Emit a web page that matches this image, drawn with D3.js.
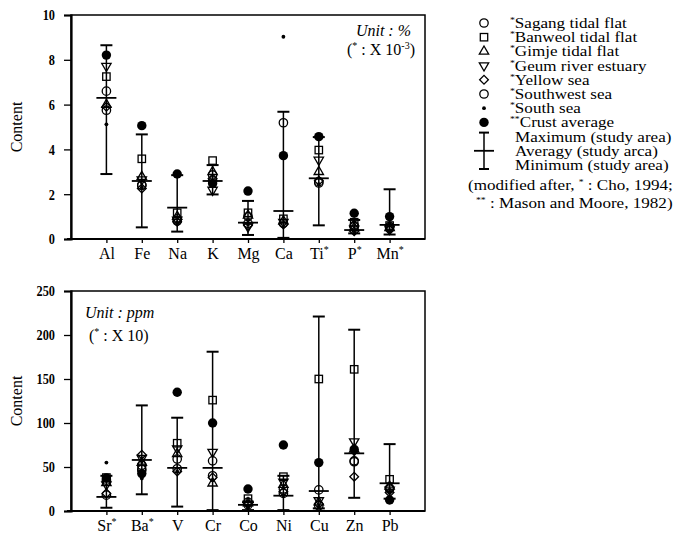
<!DOCTYPE html>
<html>
<head>
<meta charset="utf-8">
<script src="https://cdn.jsdelivr.net/npm/d3@7"></script>
<style>
  body { margin: 0; background: #fff; }
  svg, svg text { font-family: "Liberation Serif", "Times New Roman", serif; }
  .tick line, .domain { stroke: #000; }
</style>
</head>
<body>
<div id="vis"></div>
<script>
// data
const TOP_CATS = ["Al", "Fe", "Na", "K", "Mg", "Ca", "Ti*", "P*", "Mn*"];
const TOP_MAX = [8.65, 4.67, 2.85, 3.3, 1.7, 5.68, 4.55, 0.85, 2.22];
const TOP_AVG = [6.3, 2.59, 1.4, 2.59, 0.73, 1.25, 2.71, 0.4, 0.63];
const TOP_MIN = [2.9, 0.52, 0.33, 1.99, 0.18, 0.05, 0.61, 0.25, 0.2];
const TOP_SAGANG = [6.6, 2.4, 0.9, 2.86, 1.0, 5.19, 2.56, 0.6, 0.55];
const TOP_BANWEOL = [7.25, 3.58, 1.17, 3.5, 1.17, 0.9, 3.97, 0.75, 0.6];
const TOP_GIMJE = [6.0, 2.78, 1.0, 3.0, 1.05, 0.8, 3.0, 0.5, 0.5];
const TOP_GEUM = [7.72, 2.65, 0.85, 2.19, 0.55, 0.75, 3.53, 0.45, 0.45];
const TOP_YELLOW = [5.9, 2.26, 0.77, 2.7, 0.6, 0.65, 2.6, 0.35, 0.4];
const TOP_SOUTHWEST = [5.75, 2.4, 0.8, 2.6, 0.7, 0.7, 2.5, 0.55, 0.5];
const TOP_SOUTH = [5.12, 2.3, 0.75, 2.35, 0.65, 9.03, 2.45, 0.4, 0.35];
const TOP_CRUST = [8.21, 5.06, 2.9, 2.48, 2.14, 3.72, 4.57, 1.15, 1.0];
const TOP_TICKS = [0, 2, 4, 6, 8, 10];

const BOT_CATS = ["Sr*", "Ba*", "V", "Cr", "Co", "Ni", "Cu", "Zn", "Pb"];
const BOT_MAX = [40, 120, 106, 181, 10, 40, 221, 206, 76];
const BOT_AVG = [16, 58, 49, 49, 7, 17.4, 22.7, 65.5, 31.5];
const BOT_MIN = [3.7, 19, 5, 1, 1, 1, 3, 15, 14];
const BOT_SAGANG = [35, 52, 59, 57, 10, 25, 24, 56, 26];
const BOT_BANWEOL = [38, 49, 77, 126, 14, 39, 150, 161, 36];
const BOT_GIMJE = [32, 55, 65, 31.5, 9, 30, 10, 70, 28];
const BOT_GEUM = [30, 60, 71, 67, 8, 33, 12, 79, 24];
const BOT_YELLOW = [20, 64, 45, 38, 8, 22, 8, 39, 21];
const BOT_SOUTHWEST = [18, 47, 48, 40, 7, 20, 6, 57, 25];
const BOT_SOUTH = [55, 37, 45, 35, 6, 18, 5, 65, 22];
const BOT_CRUST = [37.5, 42.5, 135, 100, 25, 75, 55, 70, 12.5];
const BOT_TICKS = [0, 50, 100, 150, 200, 250];

const SERIES = ["Sagang tidal flat", "Banweol tidal flat", "Gimje tidal flat",
  "Geum river estuary", "Yellow sea", "Southwest sea", "South sea", "Crust average"];
const RANGE_LABELS = ["Maximum (study area)", "Averagy (study arca)", "Minimum (study area)"];

// frame
const WIDTH = 682, HEIGHT = 535;
const LEFT = 71, RIGHT = 425;
const SERIF = "Liberation Serif, Times New Roman, serif";

const svg = d3.select("#vis").append("svg")
  .attr("width", WIDTH).attr("height", HEIGHT)
  .attr("font-family", SERIF);

// marker drawing
function marker(g, idx, x, y) {
  if (idx === 0 || idx === 5) {
    g.append("circle").attr("cx", x).attr("cy", y).attr("r", 4.2)
      .attr("fill", "none").attr("stroke", "#000").attr("stroke-width", 1.3);
  } else if (idx === 1) {
    g.append("rect").attr("x", x - 3.7).attr("y", y - 3.7).attr("width", 7.4).attr("height", 7.4)
      .attr("fill", "none").attr("stroke", "#000").attr("stroke-width", 1.3);
  } else if (idx === 2 || idx === 3) {
    g.append("path").attr("d", d3.symbol(d3.symbolTriangle, 38)())
      .attr("transform", "translate(" + x + "," + y + ")" + (idx === 3 ? " rotate(180)" : ""))
      .attr("fill", "none").attr("stroke", "#000").attr("stroke-width", 1.3);
  } else if (idx === 4) {
    g.append("path").attr("d", d3.symbol(d3.symbolSquare, 38)())
      .attr("transform", "translate(" + x + "," + y + ") rotate(45)")
      .attr("fill", "none").attr("stroke", "#000").attr("stroke-width", 1.3);
  } else if (idx === 6) {
    g.append("circle").attr("cx", x).attr("cy", y).attr("r", 1.9).attr("fill", "#000");
  } else {
    g.append("circle").attr("cx", x).attr("cy", y).attr("r", 4.7).attr("fill", "#000");
  }
}

// category label with superscript star
function starLabel(sel) {
  sel.each(function(d) {
    const t = d3.select(this);
    const name = d.replace("*", "");
    t.text(null);
    t.append("tspan").text(name);
    if (d.indexOf("*") >= 0) {
      t.append("tspan").attr("font-size", "10px").attr("dy", "-6").text("*");
    }
  });
}

function panel(top, bottom, cats, yMax, ticks, series, maxs, avgs, mins) {
  const X_SCALE = d3.scalePoint().domain(cats).range([LEFT, RIGHT]).padding(1);
  const Y_SCALE = d3.scaleLinear().domain([0, yMax]).range([bottom, top]);
  const g = svg.append("g");

  // box
  g.append("rect").attr("x", LEFT).attr("y", top)
    .attr("width", RIGHT - LEFT).attr("height", bottom - top)
    .attr("fill", "none").attr("stroke", "#000").attr("stroke-width", 1.5);

  // y axis
  const yAxis = g.append("g").attr("transform", "translate(" + LEFT + ",0)")
    .call(d3.axisLeft(Y_SCALE).tickValues(ticks).tickSize(7).tickPadding(9))
    .attr("font-family", SERIF);
  yAxis.select(".domain").attr("stroke-width", 2.2);
  yAxis.selectAll(".tick line").attr("stroke-width", 1.3);
  yAxis.selectAll(".tick text").attr("font-size", "15px").attr("font-weight", "bold")
    .attr("fill", "#000")
    .attr("transform", "scale(0.82,1)").attr("x", -16 / 0.82);

  // x axis
  const xAxis = g.append("g").attr("transform", "translate(0," + bottom + ")")
    .call(d3.axisBottom(X_SCALE).tickSize(4).tickPadding(5))
    .attr("font-family", SERIF);
  xAxis.select(".domain").attr("d", "M" + (LEFT - 4) + ",0H" + RIGHT).attr("stroke-width", 2.2);
  xAxis.selectAll(".tick line").attr("stroke-width", 1.3);
  xAxis.selectAll(".tick text").attr("font-size", "16px").attr("fill", "#000").call(starLabel);

  // error bars
  cats.forEach((c, i) => {
    const x = X_SCALE(c);
    g.append("line").attr("x1", x).attr("x2", x)
      .attr("y1", Y_SCALE(mins[i])).attr("y2", Y_SCALE(maxs[i]))
      .attr("stroke", "#000").attr("stroke-width", 1.5);
    [mins[i], maxs[i]].forEach(v => {
      g.append("line").attr("x1", x - 6).attr("x2", x + 6)
        .attr("y1", Y_SCALE(v)).attr("y2", Y_SCALE(v))
        .attr("stroke", "#000").attr("stroke-width", 2);
    });
    g.append("line").attr("x1", x - 10).attr("x2", x + 10)
      .attr("y1", Y_SCALE(avgs[i])).attr("y2", Y_SCALE(avgs[i]))
      .attr("stroke", "#000").attr("stroke-width", 1.8);
  });

  // points
  series.forEach((vals, s) => {
    vals.forEach((v, i) => {
      marker(g, s, X_SCALE(cats[i]), Y_SCALE(v));
    });
  });

  // y label
  g.append("text")
    .attr("transform", "translate(22," + ((top + bottom) / 2) + ") rotate(-90)")
    .attr("text-anchor", "middle").attr("font-size", "16px").text("Content");
  return g;
}

const TOP = panel(15, 239, TOP_CATS, 10, TOP_TICKS,
  [TOP_SAGANG, TOP_BANWEOL, TOP_GIMJE, TOP_GEUM, TOP_YELLOW, TOP_SOUTHWEST, TOP_SOUTH, TOP_CRUST],
  TOP_MAX, TOP_AVG, TOP_MIN);
const BOT = panel(291, 511, BOT_CATS, 250, BOT_TICKS,
  [BOT_SAGANG, BOT_BANWEOL, BOT_GIMJE, BOT_GEUM, BOT_YELLOW, BOT_SOUTHWEST, BOT_SOUTH, BOT_CRUST],
  BOT_MAX, BOT_AVG, BOT_MIN);

// unit notes
TOP.append("text").attr("x", 411).attr("y", 36).attr("text-anchor", "end")
  .attr("font-size", "16px").attr("font-style", "italic").text("Unit : %");
const n1 = TOP.append("text").attr("x", 415).attr("y", 55).attr("text-anchor", "end").attr("font-size", "16px");
n1.append("tspan").text("(");
n1.append("tspan").attr("font-size", "10px").attr("dy", -6).text("*");
n1.append("tspan").attr("dy", 6).text(" : X 10");
n1.append("tspan").attr("font-size", "10px").attr("dy", -6).text("-3");
n1.append("tspan").attr("dy", 6).text(")");

BOT.append("text").attr("x", 85).attr("y", 318)
  .attr("font-size", "16px").attr("font-style", "italic").text("Unit : ppm");
const n2 = BOT.append("text").attr("x", 89).attr("y", 341).attr("font-size", "16px");
n2.append("tspan").text("(");
n2.append("tspan").attr("font-size", "10px").attr("dy", -6).text("*");
n2.append("tspan").attr("dy", 6).text(" : X 10)");

// legend, text is a bit wide in the scan so stretch it
const LEG = svg.append("g");
const LEG_Y0 = 23, LEG_STEP = 14.2;
function legText(x, y, parts) {
  const t = LEG.append("g").attr("transform", "translate(" + x + "," + y + ") scale(1.22,1)")
    .append("text").attr("font-size", "14px");
  parts.forEach(p => {
    if (p.sup) {
      t.append("tspan").attr("font-size", "8px").attr("dy", -5).text(p.sup);
    } else {
      t.append("tspan").attr("dy", p.after ? 5 : 0).text(p.text);
    }
  });
}
SERIES.forEach((name, i) => {
  const y = LEG_Y0 + i * LEG_STEP;
  marker(LEG, i, 484, y);
  legText(510, y + 5, [{ sup: i === 7 ? "**" : "*" }, { text: name, after: true }]);
});
const bandY = LEG_Y0 + 8 * LEG_STEP;
LEG.append("line").attr("x1", 484).attr("x2", 484).attr("y1", bandY - 4).attr("y2", bandY + 2 * LEG_STEP + 4)
  .attr("stroke", "#000").attr("stroke-width", 1.5);
[bandY - 4, bandY + 2 * LEG_STEP + 4].forEach(y => {
  LEG.append("line").attr("x1", 479).attr("x2", 489).attr("y1", y).attr("y2", y)
    .attr("stroke", "#000").attr("stroke-width", 2);
});
LEG.append("line").attr("x1", 474).attr("x2", 494).attr("y1", bandY + LEG_STEP).attr("y2", bandY + LEG_STEP)
  .attr("stroke", "#000").attr("stroke-width", 1.8);
RANGE_LABELS.forEach((s, i) => {
  legText(515, bandY + i * LEG_STEP + 5, [{ text: s }]);
});
legText(468, 190, [{ text: "(modified after, " }, { sup: "*" }, { text: " : Cho, 1994;", after: true }]);
legText(476, 208, [{ sup: "**" }, { text: " : Mason and Moore, 1982)", after: true }]);
</script>
</body>
</html>
